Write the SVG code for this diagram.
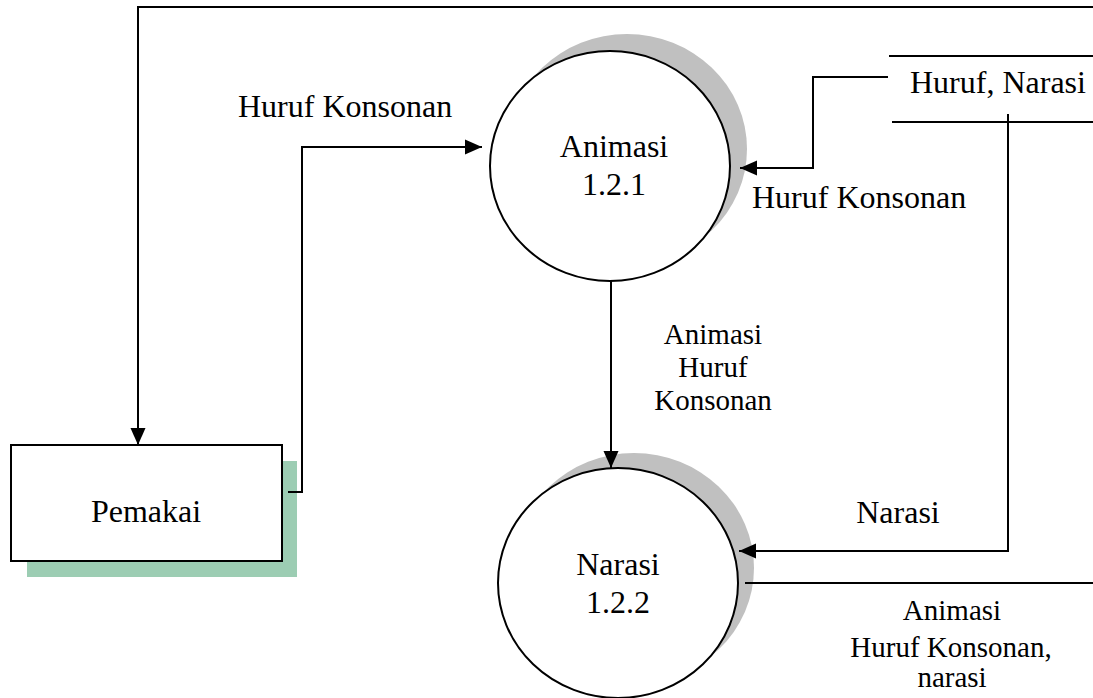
<svg xmlns="http://www.w3.org/2000/svg" width="1093" height="698" viewBox="0 0 1093 698">
  <style>
    text { font-family: 'Liberation Serif', 'Tinos', 'DejaVu Serif', 'Noto Serif', serif; fill: #000; }
    .txt { font-size: 32px; }
    .lbl { font-size: 29px; }
    .flow { fill: none; stroke: #000; stroke-width: 2; }
    .proc { fill: #fff; stroke: #000; stroke-width: 2; }
    .proc-shadow { fill: #c0c0c0; }
  </style>
  <defs>
    <marker id="arrow" markerUnits="userSpaceOnUse" markerWidth="18" markerHeight="18" viewBox="0 0 18 18" refX="17" refY="9" orient="auto">
      <path d="M0,1.5 L17,9 L0,16.5 Z" fill="#000"/>
    </marker>
  </defs>
  <rect width="1093" height="698" fill="#fff"/>

  <!-- external entity -->
  <g id="pemakai">
    <rect x="27" y="461" width="270" height="116" fill="#9ccdb3"/>
    <rect x="11" y="445" width="271" height="116" fill="#fff" stroke="#000" stroke-width="2"/>
    <text class="txt" x="146" y="522" text-anchor="middle" font-family="Liberation Serif, serif">Pemakai</text>
  </g>

  <!-- process 1.2.1 -->
  <g id="proc-animasi">
    <ellipse class="proc-shadow" cx="627" cy="149" rx="120" ry="115"/>
    <ellipse class="proc" cx="610" cy="166" rx="120" ry="115"/>
    <text class="txt" x="614" y="157" text-anchor="middle">Animasi</text>
    <text class="txt" x="614" y="195" text-anchor="middle">1.2.1</text>
  </g>

  <!-- process 1.2.2 -->
  <g id="proc-narasi">
    <ellipse class="proc-shadow" cx="634" cy="568" rx="120" ry="115"/>
    <ellipse class="proc" cx="618" cy="583" rx="120" ry="115"/>
    <text class="txt" x="618" y="575" text-anchor="middle">Narasi</text>
    <text class="txt" x="618" y="613" text-anchor="middle">1.2.2</text>
  </g>

  <!-- data store -->
  <g id="store-huruf-narasi">
    <line x1="889" y1="56" x2="1093" y2="56" stroke="#000" stroke-width="2"/>
    <line x1="892" y1="122" x2="1093" y2="122" stroke="#000" stroke-width="2"/>
    <text class="txt" x="910" y="93">Huruf, Narasi</text>
  </g>

  <!-- data flows -->
  <g id="connectors">
    <!-- output back to user -->
    <polyline class="flow" points="1093,7 138,7 138,445" marker-end="url(#arrow)"/>
    <!-- user to 1.2.1 -->
    <polyline class="flow" points="288,492 302,492 302,147 482,147" marker-end="url(#arrow)"/>
    <!-- store to 1.2.1 -->
    <polyline class="flow" points="888,77 813,77 813,168 740,168" marker-end="url(#arrow)"/>
    <!-- 1.2.1 to 1.2.2 -->
    <line class="flow" x1="611" y1="281" x2="611" y2="468" marker-end="url(#arrow)"/>
    <!-- store to 1.2.2 -->
    <polyline class="flow" points="1008,114 1008,551 739,551" marker-end="url(#arrow)"/>
    <!-- 1.2.2 output -->
    <line class="flow" x1="745" y1="583" x2="1093" y2="583"/>
  </g>

  <!-- flow labels -->
  <g id="labels">
    <text class="txt" x="238" y="117">Huruf Konsonan</text>
    <text class="txt" x="752" y="208">Huruf Konsonan</text>
    <text class="lbl" x="713" y="344" text-anchor="middle">Animasi</text>
    <text class="lbl" x="713" y="377" text-anchor="middle">Huruf</text>
    <text class="lbl" x="713" y="410" text-anchor="middle">Konsonan</text>
    <text class="txt" x="898" y="523" text-anchor="middle">Narasi</text>
    <text class="lbl" x="952" y="620" text-anchor="middle">Animasi</text>
    <text class="lbl" x="951" y="657" text-anchor="middle">Huruf Konsonan,</text>
    <text class="lbl" x="952" y="687" text-anchor="middle">narasi</text>
  </g>
</svg>
